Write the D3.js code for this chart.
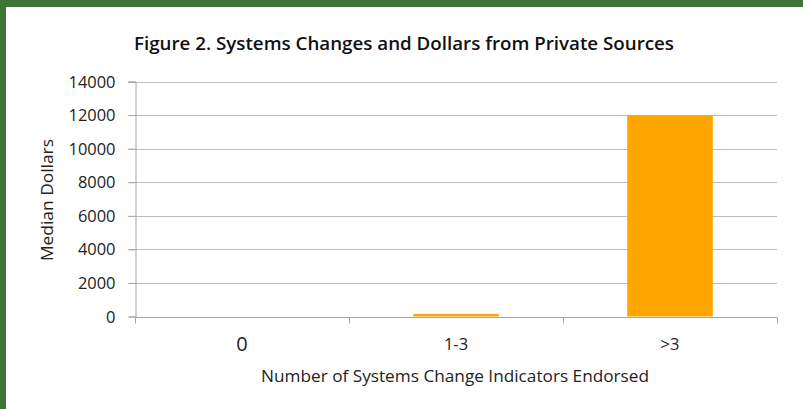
<!DOCTYPE html>
<html><head><meta charset="utf-8">
<script src="https://cdn.jsdelivr.net/npm/d3@7"></script>
<style>body{margin:0;background:#fff;overflow:hidden}</style>
</head><body>
<script>
const categories = ["0", "1-3", ">3"];
const values = [0, 150, 12000];
const yTicks = [0, 2000, 4000, 6000, 8000, 10000, 12000, 14000];
const title = "Figure 2. Systems Changes and Dollars from Private Sources";
const xTitle = "Number of Systems Change Indicators Endorsed";
const yTitle = "Median Dollars";

(function () {
const W = 803, H = 409;
const svg = d3.select("body").append("svg").attr("width", W).attr("height", H);
// green frame
svg.append("rect").attr("x",0).attr("y",0).attr("width",W).attr("height",H).attr("fill","#3e7537");
svg.append("rect").attr("x",6).attr("y",7).attr("width",W-6).attr("height",H-7).attr("fill","#fff");

const font = "'Open Sans', sans-serif";
const pLeft = 135, pRight = 777, pTop = 81.5, pBottom = 316.5;
const y = d3.scaleLinear().domain([0, 14000]).range([pBottom, pTop]);
const xAxisScale = d3.scaleBand().domain(categories).range([pLeft, pRight]).padding(0);
const xBar = d3.scaleBand().domain(categories).range([pLeft, pRight]).paddingInner(0.6).paddingOuter(0.3);

// gridlines
svg.append("g").selectAll("line").data(yTicks.filter(d => d > 0)).join("line")
  .attr("x1", pLeft - 7).attr("x2", pRight).attr("y1", d => Math.round(y(d)) + 0.5).attr("y2", d => Math.round(y(d)) + 0.5)
  .attr("stroke", "#bdbdbd").attr("stroke-width", 1.2);

// bars
svg.append("g").selectAll("rect").data(categories).join("rect")
  .attr("x", d => xBar(d)).attr("width", xBar.bandwidth())
  .attr("y", (d,i) => y(values[i])).attr("height", (d,i) => y(0) - y(values[i]))
  .attr("fill", "#ffa500");

// y axis
const yAxis = d3.axisLeft(y).tickValues(yTicks).tickSize(7).tickPadding(13).tickFormat(d3.format("d"));
const ga = svg.append("g").attr("transform", `translate(${pLeft + 0.5},0)`).call(yAxis);
ga.select(".domain").attr("stroke", "#a6a6a6");
ga.selectAll(".tick line").attr("stroke", "#a6a6a6");
ga.selectAll(".tick text").attr("font-family", font).attr("font-size", 16).attr("fill", "#222")
  .attr("dy", "0.35em")
  .attr("textLength", d => String(d).length * 9.4).attr("lengthAdjust", "spacingAndGlyphs");

// x axis
const gx = svg.append("g").attr("transform", `translate(0,${Math.round(pBottom) + 0.5})`);
gx.append("line").attr("x1", pLeft).attr("x2", pRight).attr("stroke", "#a6a6a6").attr("stroke-width", 1.2);
const tickPos = categories.map(c => xAxisScale(c)).concat([xAxisScale.range()[1]]);
gx.selectAll("line.t").data(tickPos).join("line").attr("class","t")
  .attr("x1", d => Math.round(d) + 0.5).attr("x2", d => Math.round(d) + 0.5).attr("y1", 0).attr("y2", 6)
  .attr("stroke", "#a6a6a6");
gx.selectAll("text").data(categories).join("text")
  .attr("x", d => xAxisScale(d) + xAxisScale.bandwidth() / 2)
  .attr("y", (d,i) => i === 0 ? 33.5 : 32)
  .attr("text-anchor", "middle").attr("font-family", font)
  .attr("font-size", (d,i) => i === 0 ? 20 : 16.5).attr("fill", "#222").text(d => d);

// titles
svg.append("text").attr("x", 404).attr("y", 50).attr("text-anchor", "middle")
  .attr("font-family", font).attr("font-weight", 600).attr("font-size", 17.5).attr("fill", "#111")
  .attr("textLength", 540).attr("lengthAdjust", "spacingAndGlyphs").text(title);
svg.append("text").attr("x", 455).attr("y", 382).attr("text-anchor", "middle")
  .attr("font-family", font).attr("font-size", 16).attr("fill", "#222")
  .attr("textLength", 388).attr("lengthAdjust", "spacingAndGlyphs").text(xTitle);
svg.append("text").attr("transform", "translate(53,200) rotate(-90)").attr("text-anchor", "middle")
  .attr("font-family", font).attr("font-size", 16).attr("fill", "#222")
  .attr("textLength", 122).attr("lengthAdjust", "spacingAndGlyphs").text(yTitle);
})();
</script>
</body></html>
